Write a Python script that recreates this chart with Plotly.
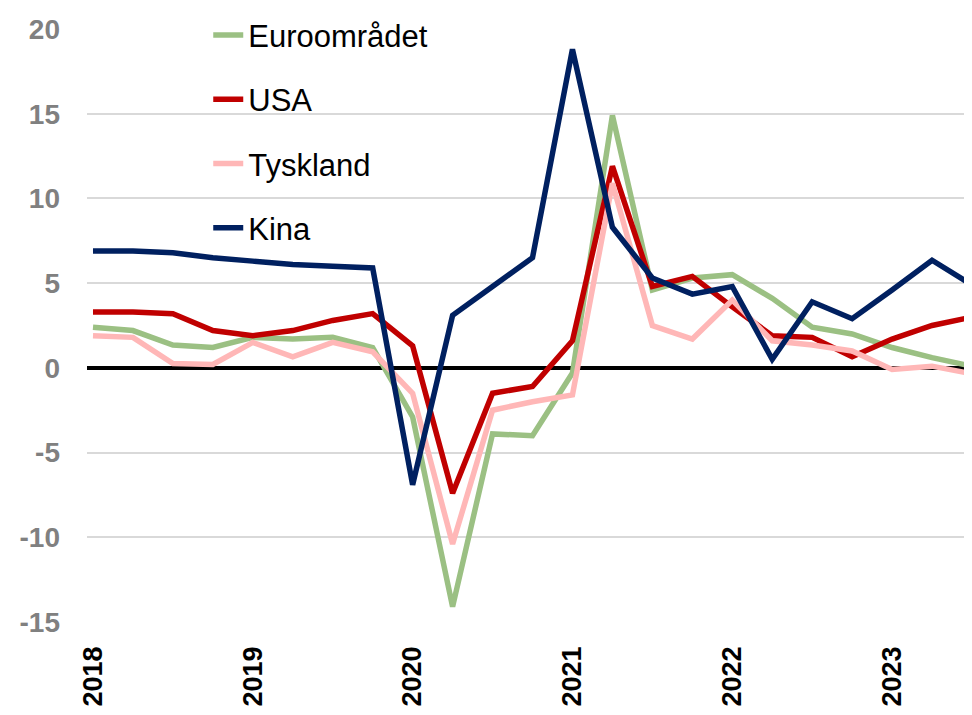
import plotly.graph_objects as go

quarters = ["2018K1","2018K2","2018K3","2018K4","2019K1","2019K2","2019K3","2019K4",
            "2020K1","2020K2","2020K3","2020K4","2021K1","2021K2","2021K3","2021K4",
            "2022K1","2022K2","2022K3","2022K4","2023K1","2023K2","2023K3"]
year_ticks = ["2018","2019","2020","2021","2022","2023"]
y_ticks = [-15, -10, -5, 0, 5, 10, 15, 20]
y_tick_labels = ["-15", "-10", "-5", "0", "5", "10", "15", "20"]

euro = [2.4, 2.2, 1.35, 1.2, 1.8, 1.7, 1.8, 1.2,
        -2.9, -14.1, -3.9, -4.0, -0.3, 14.9, 4.6, 5.3,
        5.5, 4.1, 2.4, 2.0, 1.2, 0.6, 0.1]
usa = [3.3, 3.3, 3.2, 2.2, 1.9, 2.2, 2.8, 3.2,
       1.3, -7.4, -1.5, -1.1, 1.6, 11.9, 4.8, 5.4,
       3.6, 1.9, 1.8, 0.65, 1.7, 2.5, 3.0]
tyskland = [1.9, 1.8, 0.25, 0.2, 1.5, 0.65, 1.5, 0.95,
            -1.5, -10.4, -2.5, -2.0, -1.6, 10.9, 2.5, 1.7,
            4.0, 1.6, 1.35, 1.0, -0.1, 0.1, -0.35]
kina = [6.9, 6.9, 6.8, 6.5, 6.3, 6.1, 6.0, 5.9,
        -6.9, 3.1, 4.8, 6.5, 18.8, 8.3, 5.3, 4.35,
        4.8, 0.5, 3.9, 2.9, 4.6, 6.35, 4.9]

series = [("Euroområdet", euro, "#9BC083"),
          ("USA", usa, "#C00000"),
          ("Tyskland", tyskland, "#FFB7B7"),
          ("Kina", kina, "#002060")]

x = list(range(len(quarters)))

fig = go.Figure()
for name, vals, col in series:
    fig.add_trace(go.Scatter(x=x, y=vals, mode="lines", name=name,
                             legendgroup=name,
                             line=dict(color=col, width=5.5),
                             hovertext=quarters))

fig.update_layout(
    width=964, height=707,
    margin=dict(l=79, r=0, t=19, b=93),
    paper_bgcolor="white", plot_bgcolor="white",
    font=dict(family="Liberation Sans, Arial, sans-serif"),
    showlegend=True,
    legend=dict(x=0.137, y=1.035, xanchor="left", yanchor="top",
                bgcolor="rgba(0,0,0,0)", tracegroupgap=21,
                font=dict(size=31, color="black")),
    xaxis=dict(range=[-0.15, 22], tickvals=[0, 4, 8, 12, 16, 20], ticktext=year_ticks,
               tickangle=-90, showgrid=False, zeroline=False, showline=False,
               ticks="", ticklabelstandoff=18, automargin=False,
               tickfont=dict(size=27, color="black", family="Liberation Sans, Arial, sans-serif", weight="bold")),
    yaxis=dict(range=[-15, 20], tickvals=y_ticks, ticktext=y_tick_labels,
               showgrid=True, gridcolor="#D9D9D9", gridwidth=1.5,
               zeroline=True, zerolinecolor="black", zerolinewidth=4,
               showline=False, ticks="", ticklabelstandoff=26, automargin=False,
               tickfont=dict(size=28, color="#808080", family="Liberation Sans, Arial, sans-serif", weight="bold")),
)

fig.write_html("out.html")
